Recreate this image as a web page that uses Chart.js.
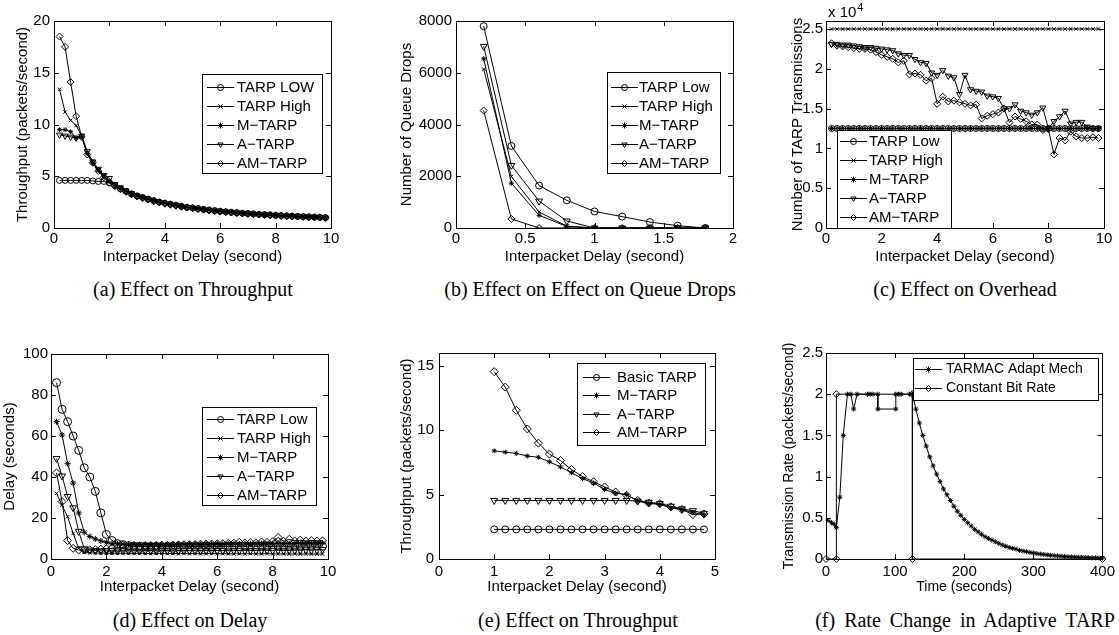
<!DOCTYPE html>
<html>
<head>
<meta charset="utf-8">
<script src="https://cdn.jsdelivr.net/npm/chart.js@4.4.1/dist/chart.umd.min.js"></script>
<style>
  body { margin: 0; background: #fff; }
  #page { position: relative; width: 1119px; height: 635px; overflow: hidden; background: #fff; }
  canvas { position: absolute; }
  .caption { position: absolute; width: 380px; text-align: center; font-family: "Liberation Serif", "Times New Roman", serif; font-size: 20px; line-height: 24px; color: #000; white-space: nowrap; }
</style>
</head>
<body>
<div id="page">
  <canvas id="chartA" width="370" height="275" style="left:0px;top:0px"></canvas>
  <canvas id="chartB" width="370" height="275" style="left:370px;top:0px"></canvas>
  <canvas id="chartC" width="379" height="275" style="left:740px;top:0px"></canvas>
  <canvas id="chartD" width="370" height="270" style="left:0px;top:330px"></canvas>
  <canvas id="chartE" width="370" height="270" style="left:370px;top:330px"></canvas>
  <canvas id="chartF" width="379" height="270" style="left:740px;top:330px"></canvas>

  <div class="caption" style="left:3px;top:277px">(a) Effect on Throughput</div>
  <div class="caption" style="left:400px;top:277px">(b) Effect on Effect on Queue Drops</div>
  <div class="caption" style="left:775px;top:277px">(c) Effect on Overhead</div>
  <div class="caption" style="left:0px;top:608px">(d) Effect on Delay</div>
  <div class="caption" style="left:388px;top:608px">(e) Effect on Throughput</div>
  <div class="caption" style="left:775px;top:608px;word-spacing:4px">(f) Rate Change in Adaptive TARP</div>
</div>

<script>
Chart.defaults.font.family = '"Liberation Sans", Arial, Helvetica, sans-serif';
Chart.defaults.font.size = 15;
Chart.defaults.color = '#000';

// interpacket delay values used by (a), (c) and (d)
const delayX = [
  0.2, 0.4, 0.6, 0.8, 1.0, 1.2, 1.4, 1.6, 1.8, 2.0,
  2.2, 2.4, 2.6, 2.8, 3.0, 3.2, 3.4, 3.6, 3.8, 4.0,
  4.2, 4.4, 4.6, 4.8, 5.0, 5.2, 5.4, 5.6, 5.8, 6.0,
  6.2, 6.4, 6.6, 6.8, 7.0, 7.2, 7.4, 7.6, 7.8, 8.0,
  8.2, 8.4, 8.6, 8.8, 9.0, 9.2, 9.4, 9.6, 9.8
];

// (a) throughput
const tarpLowA = [
  4.6, 4.6, 4.6, 4.6, 4.6, 4.6, 4.55, 4.5, 4.5, 4.35,
  4.1, 3.8, 3.55, 3.3, 3.1, 2.95, 2.8, 2.65, 2.5, 2.4,
  2.3, 2.2, 2.1, 2.0, 1.95, 1.88, 1.8, 1.74, 1.68, 1.62,
  1.57, 1.52, 1.48, 1.43, 1.4, 1.36, 1.32, 1.29, 1.26, 1.23,
  1.2, 1.17, 1.15, 1.12, 1.1, 1.08, 1.05, 1.03, 1.0
];
const tarpHighA = [
  13.4, 11.2, 10.4, 9.9, 8.9, 7.3, 6.4, 5.6, 5.0, 4.5,
  4.2, 3.9, 3.6, 3.35, 3.15, 2.95, 2.8, 2.65, 2.55, 2.45,
  2.35, 2.25, 2.15, 2.05, 1.97, 1.9, 1.83, 1.76, 1.7, 1.64,
  1.58, 1.54, 1.49, 1.45, 1.41, 1.37, 1.34, 1.3, 1.27, 1.24,
  1.21, 1.19, 1.16, 1.13, 1.11, 1.09, 1.06, 1.04, 1.02
];
const mTarpA = [
  9.5, 9.5, 9.3, 8.7, 8.8, 7.2, 6.3, 5.6, 5.0, 4.5,
  4.1, 3.8, 3.55, 3.3, 3.1, 2.95, 2.8, 2.65, 2.5, 2.4,
  2.3, 2.2, 2.1, 2.0, 1.93, 1.86, 1.8, 1.73, 1.67, 1.61,
  1.56, 1.51, 1.47, 1.43, 1.39, 1.35, 1.31, 1.28, 1.25, 1.22,
  1.19, 1.16, 1.14, 1.11, 1.09, 1.07, 1.04, 1.02, 1.0
];
const aTarpA = [
  9.0, 8.9, 8.8, 8.7, 8.9, 7.4, 6.4, 5.7, 5.1, 4.8,
  4.2, 3.9, 3.6, 3.35, 3.1, 2.9, 2.75, 2.6, 2.5, 2.35,
  2.25, 2.15, 2.05, 1.98, 1.9, 1.83, 1.77, 1.7, 1.65, 1.59,
  1.54, 1.5, 1.45, 1.41, 1.38, 1.34, 1.3, 1.27, 1.24, 1.21,
  1.18, 1.15, 1.13, 1.1, 1.08, 1.06, 1.03, 1.01, 0.98
];
const amTarpA = [
  18.5, 17.5, 14.1, 10.8, 8.8, 7.1, 6.3, 5.5, 4.9, 4.4,
  4.05, 3.75, 3.5, 3.25, 3.05, 2.9, 2.75, 2.6, 2.48, 2.38,
  2.28, 2.18, 2.08, 2.0, 1.93, 1.85, 1.79, 1.72, 1.66, 1.6,
  1.55, 1.5, 1.46, 1.42, 1.38, 1.34, 1.31, 1.28, 1.25, 1.22,
  1.19, 1.16, 1.13, 1.11, 1.09, 1.06, 1.04, 1.02, 1.0
];

// (b) queue drops
const queueX = [0.2, 0.4, 0.6, 0.8, 1.0, 1.2, 1.4, 1.6, 1.8];
const tarpLowB = [7800, 3170, 1640, 1070, 640, 440, 230, 90, 0];
const tarpHighB = [6140, 1990, 620, 70, 0, 0, 0, 0, 0];
const mTarpB = [6540, 1730, 490, 60, 0, 0, 0, 0, 0];
const aTarpB = [7020, 2420, 1040, 270, 0, 0, 0, 0, 0];
const amTarpB = [4540, 350, 0, 0, 0, 0, 0, 0, 0];

// (c) number of TARP transmissions, in units of 10^4
const tarpLowC = [
  1.25, 1.25, 1.25, 1.25, 1.25, 1.25, 1.25, 1.25, 1.25, 1.25,
  1.25, 1.25, 1.25, 1.25, 1.25, 1.25, 1.25, 1.25, 1.25, 1.25,
  1.25, 1.25, 1.25, 1.25, 1.25, 1.25, 1.25, 1.25, 1.25, 1.25,
  1.25, 1.25, 1.25, 1.25, 1.25, 1.25, 1.25, 1.25, 1.25, 1.25,
  1.25, 1.25, 1.25, 1.25, 1.25, 1.25, 1.25, 1.25, 1.25
];
const tarpHighC = [
  2.5, 2.5, 2.5, 2.5, 2.5, 2.5, 2.5, 2.5, 2.5, 2.5,
  2.5, 2.5, 2.5, 2.5, 2.5, 2.5, 2.5, 2.5, 2.5, 2.5,
  2.5, 2.5, 2.5, 2.5, 2.5, 2.5, 2.5, 2.5, 2.5, 2.5,
  2.5, 2.5, 2.5, 2.5, 2.5, 2.5, 2.5, 2.5, 2.5, 2.5,
  2.5, 2.5, 2.5, 2.5, 2.5, 2.5, 2.5, 2.5, 2.5
];
const mTarpC = [
  1.25, 1.25, 1.25, 1.25, 1.25, 1.25, 1.25, 1.25, 1.25, 1.25,
  1.25, 1.25, 1.25, 1.25, 1.25, 1.25, 1.25, 1.25, 1.25, 1.25,
  1.25, 1.25, 1.25, 1.25, 1.25, 1.25, 1.25, 1.25, 1.25, 1.25,
  1.25, 1.25, 1.25, 1.25, 1.25, 1.25, 1.25, 1.25, 1.25, 1.25,
  1.25, 1.25, 1.25, 1.25, 1.25, 1.25, 1.25, 1.25, 1.25
];
const aTarpC = [
  2.31, 2.31, 2.30, 2.30, 2.29, 2.28, 2.27, 2.27, 2.26, 2.25,
  2.24, 2.23, 2.19, 2.17, 2.17, 2.12, 2.08, 2.07, 1.95, 1.92,
  1.98, 1.91, 1.89, 1.68, 1.92, 1.74, 1.72, 1.71, 1.66, 1.65,
  1.63, 1.50, 1.50, 1.55, 1.47, 1.45, 1.42, 1.45, 1.51, 1.25,
  1.34, 1.40, 1.47, 1.31, 1.33, 1.33, 1.27, 1.25, 1.25
];
const amTarpC = [
  2.32, 2.29, 2.28, 2.27, 2.26, 2.25, 2.25, 2.24, 2.21, 2.175,
  2.15, 2.125, 2.08, 2.10, 1.93, 1.94, 1.925, 1.85, 1.88, 1.56,
  1.65, 1.59, 1.60, 1.58, 1.56, 1.54, 1.55, 1.375, 1.41, 1.43,
  1.45, 1.50, 1.325, 1.40, 1.37, 1.34, 1.30, 1.30, 1.23, 1.24,
  0.925, 1.13, 1.10, 1.21, 1.15, 1.13, 1.13, 1.14, 1.13
];

// (d) delay
const tarpLowD = [
  86, 73, 67, 60, 53, 44.5, 40, 33, 22.5, 12,
  9, 7.5, 7, 6.5, 6.3, 6.2, 6, 6, 6.1, 5.9,
  6, 6.1, 6, 5.9, 6, 6.1, 6, 6.2, 6, 6.1,
  6, 6.2, 6.1, 6, 6.3, 6.2, 6.1, 6.3, 6.2, 6,
  6.3, 6.2, 6.1, 6.3, 6.2, 6.4, 6.2, 6.3, 6.2
];
const tarpHighD = [
  32, 26.3, 20.6, 12.5, 5.2, 3.2, 3.0, 2.9, 2.9, 2.8,
  2.8, 2.8, 2.7, 2.8, 2.7, 2.8, 2.7, 2.7, 2.8, 2.7,
  2.7, 2.7, 2.6, 2.7, 2.6, 2.7, 2.6, 2.6, 2.7, 2.6,
  2.6, 2.6, 2.5, 2.6, 2.5, 2.6, 2.5, 2.5, 2.6, 2.5,
  2.5, 2.5, 2.4, 2.5, 2.4, 2.5, 2.4, 2.4, 2.4
];
const mTarpD = [
  67, 60.5, 46.5, 37, 22.5, 13, 11, 9.8, 8.8, 8.1,
  7.6, 7.4, 7.3, 7.2, 7.2, 7.1, 7.2, 7.1, 7.2, 7.1,
  7.2, 7.1, 7.2, 7.1, 7.2, 7.2, 7.1, 7.2, 7.2, 7.3,
  7.2, 7.3, 7.3, 7.4, 7.3, 7.4, 7.4, 7.5, 7.4, 7.5,
  7.5, 7.6, 7.5, 7.6, 7.7, 7.6, 7.7, 7.8, 7.8
];
const aTarpD = [
  49, 40.5, 30.5, 25, 13.5, 5, 4.3, 4.1, 4.0, 4.0,
  4.0, 3.9, 4.0, 3.9, 4.0, 3.9, 4.0, 4.0, 3.9, 4.0,
  4.0, 3.9, 4.0, 4.0, 4.1, 4.0, 4.0, 4.1, 4.0, 4.1,
  4.1, 4.0, 4.1, 4.2, 4.1, 4.2, 4.1, 4.2, 4.3, 4.2,
  4.3, 4.2, 4.4, 4.3, 4.4, 4.5, 4.4, 4.5, 4.6
];
const amTarpD = [
  42, 28, 9, 5.2, 4.4, 4.4, 4.5, 4.6, 4.8, 5.0,
  5.2, 5.4, 5.6, 5.8, 6.0, 6.1, 6.3, 6.4, 6.5, 6.6,
  6.7, 6.8, 6.9, 7.0, 7.0, 7.1, 7.2, 7.3, 7.3, 7.4,
  7.5, 7.6, 7.7, 8.2, 7.8, 8.0, 7.9, 8.3, 8.1, 8.4,
  10.5, 8.6, 9.6, 8.8, 9.2, 8.7, 9.0, 8.8, 8.9
];

// (e) throughput, second run
const delayXe = [
  1.0, 1.2, 1.4, 1.6, 1.8, 2.0, 2.2, 2.4, 2.6, 2.8,
  3.0, 3.2, 3.4, 3.6, 3.8, 4.0, 4.2, 4.4, 4.6, 4.8
];
const basicTarpE = [
  2.3, 2.3, 2.3, 2.3, 2.3, 2.3, 2.3, 2.3, 2.3, 2.3,
  2.3, 2.3, 2.3, 2.3, 2.3, 2.3, 2.3, 2.3, 2.3, 2.3
];
const mTarpE = [
  8.4, 8.3, 8.2, 8.0, 7.9, 7.55, 7.15, 6.7, 6.25, 5.9,
  5.4, 5.1, 5.0, 4.5, 4.3, 4.25, 3.95, 3.85, 3.6, 3.45
];
const aTarpE = [
  4.55, 4.55, 4.55, 4.55, 4.55, 4.55, 4.55, 4.55, 4.55, 4.55,
  4.55, 4.55, 4.55, 4.5, 4.4, 4.3, 4.1, 3.9, 3.75, 3.55
];
const amTarpE = [
  14.55, 13.35, 11.55, 10.1, 9.0, 8.15, 7.65, 6.95, 6.4, 6.0,
  5.6, 5.2, 4.95, 4.55, 4.35, 4.3, 4.05, 3.85, 3.45, 3.5
];

// (f) rate change over time
const adaptTime = [
  3, 8, 12, 15, 20, 25, 31, 36, 40, 45,
  60, 64, 68, 75, 75, 101, 101, 105, 109, 121,
  125, 130, 135, 140, 145, 150, 155, 160, 165, 170,
  175, 180, 185, 190, 195, 200, 205, 210, 215, 220,
  225, 230, 235, 240, 245, 250, 255, 260, 265, 270,
  275, 280, 285, 290, 295, 300, 305, 310, 315, 320,
  325, 330, 335, 340, 345, 350, 355, 360, 365, 370,
  375, 380, 385, 390, 395, 400
];
const adaptRate = [
  0.47, 0.44, 0.42, 0.38, 0.75, 1.5, 2, 2, 1.82, 2,
  2, 2, 2, 2, 1.82, 1.82, 2, 2, 2, 2,
  2.0, 1.82, 1.65, 1.5, 1.37, 1.24, 1.13, 1.03, 0.94, 0.85,
  0.78, 0.71, 0.64, 0.58, 0.53, 0.48, 0.44, 0.4, 0.36, 0.33,
  0.3, 0.27, 0.25, 0.23, 0.21, 0.19, 0.17, 0.155, 0.14, 0.13,
  0.12, 0.105, 0.097, 0.088, 0.08, 0.073, 0.066, 0.06, 0.055, 0.05,
  0.045, 0.041, 0.038, 0.034, 0.031, 0.028, 0.026, 0.024, 0.022, 0.02,
  0.018, 0.017, 0.015, 0.014, 0.013, 0.012
];
const cbrTime = [0, 15, 15, 125, 125, 400];
const cbrRate = [0, 0, 2, 2, 0, 0];

const FONT = '"Liberation Sans", Arial, Helvetica, sans-serif';

function series(label, xs, ys, marker, radius) {
  return {
    label: label,
    data: xs.map((x, i) => ({ x: x, y: ys[i] })),
    borderColor: '#000',
    borderWidth: 1,
    pointStyle: marker === 'triangleDown' ? 'triangle' : marker,
    pointRotation: marker === 'triangleDown' ? 180 : 0,
    pointRadius: radius || 3.5,
    pointBorderColor: '#000',
    pointBackgroundColor: 'rgba(0,0,0,0)',
    pointBorderWidth: 1,
    tension: 0,
    fill: false
  };
}

// box round the plot, inward ticks on all sides, legend box, exponent label
function matlabFrame(setup) {
  return {
    id: 'matlabFrame',
    afterDatasetsDraw(chart) {
      const { ctx, chartArea: a, scales } = chart;
      ctx.save();
      ctx.strokeStyle = '#000';
      ctx.lineWidth = 1;
      ctx.beginPath();
      scales.x.ticks.forEach((t) => {
        const px = Math.round(scales.x.getPixelForValue(t.value)) + 0.5;
        ctx.moveTo(px, a.bottom); ctx.lineTo(px, a.bottom - 5);
        ctx.moveTo(px, a.top); ctx.lineTo(px, a.top + 5);
      });
      scales.y.ticks.forEach((t) => {
        const py = Math.round(scales.y.getPixelForValue(t.value)) + 0.5;
        ctx.moveTo(a.left, py); ctx.lineTo(a.left + 5, py);
        ctx.moveTo(a.right, py); ctx.lineTo(a.right - 5, py);
      });
      ctx.stroke();
      ctx.strokeRect(Math.round(a.left) + 0.5, Math.round(a.top) + 0.5,
        Math.round(a.right - a.left), Math.round(a.bottom - a.top));

      if (setup.exponent) {
        ctx.fillStyle = '#000';
        ctx.textBaseline = 'middle';
        ctx.textAlign = 'left';
        ctx.font = '15px ' + FONT;
        ctx.fillText('x 10', setup.exponent.x, setup.exponent.y);
        const w = ctx.measureText('x 10').width;
        ctx.font = '11px ' + FONT;
        ctx.fillText(setup.exponent.power, setup.exponent.x + w + 1, setup.exponent.y - 5);
      }

      const lg = setup.legend;
      ctx.fillStyle = '#fff';
      ctx.fillRect(lg.left, lg.top, lg.width, lg.height);
      ctx.strokeRect(lg.left + 0.5, lg.top + 0.5, lg.width, lg.height);
      ctx.font = (setup.fontSize || 15) + 'px ' + FONT;
      ctx.textBaseline = 'middle';
      ctx.textAlign = 'left';
      chart.data.datasets.forEach((ds, i) => {
        const y = Math.round(lg.top + lg.first + i * lg.rowH) + 0.5;
        const x1 = lg.left + lg.lineStart;
        const x2 = x1 + 27;
        ctx.strokeStyle = '#000';
        ctx.beginPath();
        ctx.moveTo(x1, y); ctx.lineTo(x2, y);
        ctx.stroke();
        ctx.fillStyle = 'rgba(0,0,0,0)';
        Chart.helpers.drawPoint(ctx, {
          pointStyle: ds.pointStyle,
          rotation: ds.pointRotation,
          radius: 3,
          borderWidth: 1
        }, (x1 + x2) / 2, y);
        ctx.fillStyle = '#000';
        ctx.fillText(ds.label, lg.left + lg.textStart, y);
      });
      ctx.restore();
    }
  };
}

function makeChart(id, setup) {
  const ctx = document.getElementById(id).getContext('2d');
  const fs = setup.fontSize || 15;
  return new Chart(ctx, {
    type: 'line',
    data: { datasets: setup.datasets },
    options: {
      responsive: false,
      animation: false,
      events: [],
      clip: setup.clip === undefined ? undefined : setup.clip,
      layout: { padding: { left: 0, top: setup.frame.top, right: setup.frame.right, bottom: 0 } },
      plugins: { legend: { display: false }, tooltip: { enabled: false } },
      scales: {
        x: {
          type: 'linear',
          min: setup.x.min,
          max: setup.x.max,
          grid: { display: false, drawTicks: false },
          border: { display: false },
          ticks: {
            stepSize: setup.x.step,
            padding: setup.frame.xTickPad,
            autoSkip: false,
            maxRotation: 0,
            includeBounds: false,
            font: { size: 15 },
            callback: (v) => String(v)
          },
          title: {
            display: true,
            text: setup.x.title,
            font: { size: fs },
            padding: { top: 0, bottom: setup.frame.xTitlePad }
          },
          afterFit: (s) => { s.height = setup.frame.xHeight; }
        },
        y: {
          type: 'linear',
          min: setup.y.min,
          max: setup.y.max,
          grid: { display: false, drawTicks: false },
          border: { display: false },
          ticks: {
            stepSize: setup.y.step,
            padding: setup.frame.yTickPad,
            autoSkip: false,
            includeBounds: false,
            font: { size: 15 },
            callback: (v) => String(v)
          },
          title: {
            display: true,
            text: setup.y.title,
            font: { size: fs },
            padding: { top: setup.frame.yTitlePad, bottom: 0 }
          },
          afterFit: (s) => { s.width = setup.frame.yWidth; }
        }
      }
    },
    plugins: [matlabFrame(setup)]
  });
}

const chartA = makeChart('chartA', {
  datasets: [
    series('TARP LOW', delayX, tarpLowA, 'circle', 3),
    series('TARP High', delayX, tarpHighA, 'crossRot', 2.5),
    series('M\u2212TARP', delayX, mTarpA, 'star', 2.5),
    series('A\u2212TARP', delayX, aTarpA, 'triangleDown', 3.5),
    series('AM\u2212TARP', delayX, amTarpA, 'rectRot', 3.5)
  ],
  x: { min: 0, max: 10, step: 2, title: 'Interpacket Delay (second)' },
  y: { min: 0, max: 20, step: 5, title: 'Throughput (packets/second)' },
  frame: { top: 21, right: 39, yWidth: 54, xHeight: 47, xTickPad: 2, yTickPad: 4, xTitlePad: 9, yTitlePad: 14 },
  legend: { left: 202, top: 74, width: 120, height: 99, first: 13, rowH: 19, lineStart: 5, textStart: 35 }
});

const chartB = makeChart('chartB', {
  datasets: [
    series('TARP Low', queueX, tarpLowB, 'circle', 3.5),
    series('TARP High', queueX, tarpHighB, 'crossRot', 2.5),
    series('M\u2212TARP', queueX, mTarpB, 'star', 2.5),
    series('A\u2212TARP', queueX, aTarpB, 'triangleDown', 4),
    series('AM\u2212TARP', queueX, amTarpB, 'rectRot', 3.5)
  ],
  x: { min: 0, max: 2, step: 0.5, title: 'Interpacket Delay (second)' },
  y: { min: 0, max: 8000, step: 2000, title: 'Number of Queue Drops' },
  frame: { top: 21, right: 7, yWidth: 86, xHeight: 47, xTickPad: 2, yTickPad: 4, xTitlePad: 9, yTitlePad: 28 },
  legend: { left: 237, top: 72, width: 113, height: 101, first: 15, rowH: 19, lineStart: 4, textStart: 32 }
});

const chartC = makeChart('chartC', {
  datasets: [
    series('TARP Low', delayX, tarpLowC, 'circle', 3),
    series('TARP High', delayX, tarpHighC, 'crossRot', 2.5),
    series('M\u2212TARP', delayX, mTarpC, 'star', 2.5),
    series('A\u2212TARP', delayX, aTarpC, 'triangleDown', 3.5),
    series('AM\u2212TARP', delayX, amTarpC, 'rectRot', 3.5)
  ],
  x: { min: 0, max: 10, step: 2, title: 'Interpacket Delay (second)' },
  y: { min: 0, max: 2.6, step: 0.5, title: 'Number of TARP Transmissions' },
  frame: { top: 21, right: 15, yWidth: 86, xHeight: 47, xTickPad: 2, yTickPad: 3, xTitlePad: 9, yTitlePad: 49 },
  legend: { left: 97, top: 130, width: 114, height: 98, first: 11, rowH: 19, lineStart: 3, textStart: 32 },
  exponent: { x: 88, y: 13, power: '4' }
});

const chartD = makeChart('chartD', {
  datasets: [
    series('TARP Low', delayX, tarpLowD, 'circle', 4),
    series('TARP High', delayX, tarpHighD, 'crossRot', 2.5),
    series('M\u2212TARP', delayX, mTarpD, 'star', 3),
    series('A\u2212TARP', delayX, aTarpD, 'triangleDown', 4),
    series('AM\u2212TARP', delayX, amTarpD, 'rectRot', 4)
  ],
  x: { min: 0, max: 10, step: 2, title: 'Interpacket Delay (second)' },
  y: { min: 0, max: 100, step: 20, title: 'Delay (seconds)' },
  frame: { top: 24, right: 42, yWidth: 51, xHeight: 41, xTickPad: 4, yTickPad: 3, xTitlePad: 4, yTitlePad: 1 },
  legend: { left: 202, top: 77, width: 114, height: 98, first: 12, rowH: 19, lineStart: 5, textStart: 35 }
});

const chartE = makeChart('chartE', {
  datasets: [
    series('Basic TARP', delayXe, basicTarpE, 'circle', 3.5),
    series('M\u2212TARP', delayXe, mTarpE, 'star', 2.5),
    series('A\u2212TARP', delayXe, aTarpE, 'triangleDown', 4),
    series('AM\u2212TARP', delayXe, amTarpE, 'rectRot', 4)
  ],
  x: { min: 0, max: 5, step: 1, title: 'Interpacket Delay (second)' },
  y: { min: 0, max: 16, step: 5, title: 'Throughput (packets/second)' },
  frame: { top: 23, right: 25, yWidth: 69, xHeight: 41, xTickPad: 4, yTickPad: 5, xTitlePad: 4, yTitlePad: 28 },
  legend: { left: 207, top: 33, width: 128, height: 82, first: 14, rowH: 18.3, lineStart: 6, textStart: 40 }
});

const chartF = makeChart('chartF', {
  datasets: [
    series('TARMAC Adapt Mech', adaptTime, adaptRate, 'star', 2.5),
    series('Constant Bit Rate', cbrTime, cbrRate, 'rectRot', 3.5)
  ],
  x: { min: 0, max: 400, step: 100, title: 'Time (seconds)' },
  y: { min: 0, max: 2.5, step: 0.5, title: 'Transmission Rate (packets/second)' },
  frame: { top: 23, right: 16, yWidth: 86, xHeight: 41, xTickPad: 4, yTickPad: 3, xTitlePad: 4, yTitlePad: 41 },
  legend: { left: 173, top: 28, width: 185, height: 42, first: 11, rowH: 19, lineStart: 2, textStart: 33 },
  fontSize: 14,
  clip: false
});
</script>
</body>
</html>
